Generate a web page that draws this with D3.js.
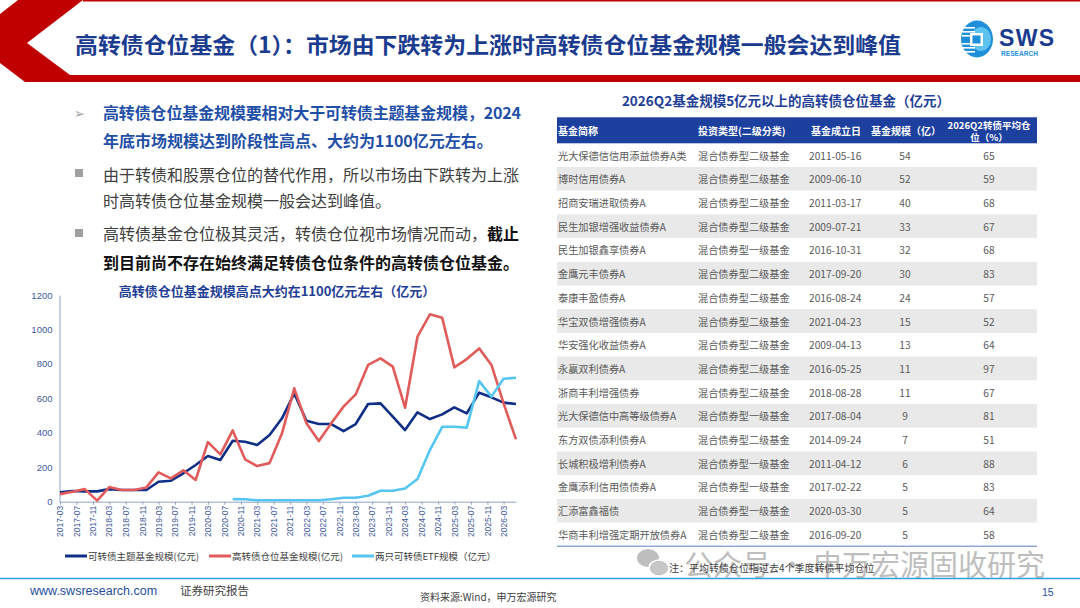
<!DOCTYPE html>
<html><head><meta charset="utf-8">
<script src="https://cdn.jsdelivr.net/npm/d3@7/dist/d3.min.js"></script>
<style>
html,body{margin:0;padding:0;background:#fff;}
svg{display:block;font-family:"Noto Sans CJK SC","Noto Sans",sans-serif;}
</style></head>
<body><svg id="slide" width="1080" height="608"></svg>
<script>
// chart series, quarterly, 亿元
const quarters=['2017-03','2017-06','2017-09','2017-12','2018-03','2018-06','2018-09','2018-12','2019-03','2019-06','2019-09','2019-12','2020-03','2020-06','2020-09','2020-12','2021-03','2021-06','2021-09','2021-12','2022-03','2022-06','2022-09','2022-12','2023-03','2023-06','2023-09','2023-12','2024-03','2024-06','2024-09','2024-12','2025-03','2025-06','2025-09','2025-12','2026-03','2026-06'];
const themeFund=[54,62,60,60,73,68,68,68,116,122,165,213,265,242,354,348,329,387,484,629,470,451,451,410,451,567,571,494,416,519,480,507,548,513,633,606,575,567];
const highPosFund=[44,58,73,6,85,68,68,83,170,135,182,126,346,275,414,246,207,224,397,658,455,352,455,552,623,794,832,784,546,958,1088,1068,780,828,890,794,571,362];
const etfSize=[null,null,null,null,null,null,null,null,null,null,null,null,null,null,15,14,8,8,8,8,8,8,14,23,23,35,64,64,77,132,300,435,435,430,700,610,714,720];
const seriesNames=['可转债主题基金规模(亿元)','高转债仓位基金规模(亿元)','两只可转债ETF规模（亿元）'];
const xTickLabels=['2017-03','2017-07','2017-11','2018-03','2018-07','2018-11','2019-03','2019-07','2019-11','2020-03','2020-07','2020-11','2021-03','2021-07','2021-11','2022-03','2022-07','2022-11','2023-03','2023-07','2023-11','2024-03','2024-07','2024-11','2025-03','2025-07','2025-11','2026-03'];
const yTicks=[0,200,400,600,800,1000,1200];

// table
const tableHead=['基金简称','投资类型(二级分类)','基金成立日','基金规模（亿）'];
const fundNames=['光大保德信信用添益债券A类','博时信用债券A','招商安瑞进取债券A','民生加银增强收益债券A','民生加银鑫享债券A','金鹰元丰债券A','泰康丰盈债券A','华宝双债增强债券A','华安强化收益债券A','永赢双利债券A','浙商丰利增强债券','光大保德信中高等级债券A','东方双债添利债券A','长城积极增利债券A','金鹰添利信用债债券A','汇添富鑫福债','华商丰利增强定期开放债券A'];
const fundTypes=['混合债券型二级基金','混合债券型二级基金','混合债券型二级基金','混合债券型二级基金','混合债券型一级基金','混合债券型二级基金','混合债券型二级基金','混合债券型二级基金','混合债券型二级基金','混合债券型二级基金','混合债券型二级基金','混合债券型一级基金','混合债券型二级基金','混合债券型一级基金','混合债券型一级基金','混合债券型一级基金','混合债券型二级基金'];
const fundDates=['2011-05-16','2009-06-10','2011-03-17','2009-07-21','2016-10-31','2017-09-20','2016-08-24','2021-04-23','2009-04-13','2016-05-25','2018-08-28','2017-08-04','2014-09-24','2011-04-12','2017-02-22','2020-03-30','2016-09-20'];
const fundSizes=[54,52,40,33,32,30,24,15,13,11,11,9,7,6,5,5,5];
const fundPositions=[65,59,68,67,68,83,57,52,64,97,67,81,51,88,83,64,58];

const svg=d3.select('#slide');
const NAVY='#1b3c8e', RED='#c00000';

// ---- header ----
svg.append('rect').attr('x',83).attr('y',0).attr('width',997).attr('height',1.5).attr('fill',RED);
svg.append('path').attr('fill',RED)
  .attr('d','M18,0 L83,0 L27,43 L70,75 L1080,75 L1080,82 L25,82 L0,63 L0,14 Z');
svg.append('text').attr('x',75).attr('y',43).attr('dominant-baseline','central')
  .attr('font-size',22).attr('font-weight',700).attr('fill',NAVY)
  .attr('textLength',826).attr('lengthAdjust','spacingAndGlyphs')
  .text('高转债仓位基金（1）：市场由下跌转为上涨时高转债仓位基金规模一般会达到峰值');

// logo
const logo=svg.append('g');
logo.append('ellipse').attr('cx',977).attr('cy',39).attr('rx',16).attr('ry',18.5).attr('fill','#1e8fd8');
logo.append('ellipse').attr('cx',981).attr('cy',39).attr('rx',10).attr('ry',12).attr('fill','#5cc3f0');
[27,31,35,43,47,51].forEach(y=>logo.append('rect').attr('x',962).attr('y',y).attr('width',13).attr('height',1.6).attr('fill','#fff'));
logo.append('rect').attr('x',970).attr('y',33).attr('width',13).attr('height',13).attr('fill','#fff');
logo.append('rect').attr('x',972.5).attr('y',35.5).attr('width',8).attr('height',8).attr('fill','#1e8fd8');
logo.append('text').attr('x',999).attr('y',46).attr('font-family','"Liberation Sans",Arial,sans-serif')
  .attr('font-size',23).attr('font-weight',700).attr('fill','#1b3c8e').attr('textLength',55).text('SWS');
logo.append('text').attr('x',1001).attr('y',55.5).attr('font-family','"Liberation Sans",Arial,sans-serif')
  .attr('font-size',6.5).attr('font-weight',700).attr('fill','#1e8fd8').attr('textLength',37).text('RESEARCH');

// ---- left bullets ----
const BLUE_TXT='#1f4fa6', GRAY_TXT='#404040';
svg.append('text').attr('x',74).attr('y',112).attr('dominant-baseline','central').attr('font-size',13).attr('fill','#a0a0a0').text('➢');
[173,233].forEach(y=>svg.append('rect').attr('x',75).attr('y',y-4).attr('width',8).attr('height',8).attr('fill','#a0a0a0'));
const bl=(y,txt,opts)=>svg.append('text').attr('x',103).attr('y',y).attr('dominant-baseline','central')
  .attr('font-size',16).attr('font-weight',opts.bold?700:400).attr('fill',opts.color).text(txt);
bl(112,'高转债仓位基金规模要相对大于可转债主题基金规模，2024',{bold:1,color:BLUE_TXT}).attr('textLength',418).attr('lengthAdjust','spacing');
bl(140,'年底市场规模达到阶段性高点、大约为1100亿元左右。',{bold:1,color:BLUE_TXT});
bl(174,'由于转债和股票仓位的替代作用，所以市场由下跌转为上涨',{color:GRAY_TXT});
bl(200,'时高转债仓位基金规模一般会达到峰值。',{color:GRAY_TXT});
const l5=bl(233,'',{color:GRAY_TXT});
l5.append('tspan').text('高转债基金仓位极其灵活，转债仓位视市场情况而动，');
l5.append('tspan').attr('font-weight',700).attr('fill','#111').text('截止');
bl(262,'到目前尚不存在始终满足转债仓位条件的高转债仓位基金。',{bold:1,color:'#111'});

// ---- line chart ----
const parse=d3.timeParse('%Y-%m');
const x=d3.scaleTime().domain([parse('2017-03'),parse('2026-06')]).range([60,516]);
const y=d3.scaleLinear().domain([0,1200]).range([501.7,295]);
const AX='#8ea3c9', TICK_TXT='#3d5a9c';

svg.append('text').attr('x',277).attr('y',290).attr('text-anchor','middle').attr('dominant-baseline','central')
  .attr('font-size',13).attr('font-weight',700).attr('fill','#1f3e95').text('高转债仓位基金规模高点大约在1100亿元左右（亿元）');

const yAxis=svg.append('g').attr('transform','translate(59.5,0)')
  .call(d3.axisLeft(y).tickValues(yTicks).tickSize(0).tickPadding(7).tickFormat(d3.format('d')));
yAxis.select('.domain').attr('stroke',AX);
yAxis.selectAll('text').attr('fill',TICK_TXT).attr('font-size',9.5).attr('font-family','"Liberation Sans",Arial,sans-serif');

const xAxis=svg.append('g').attr('transform','translate(0,501.7)')
  .call(d3.axisBottom(x).tickValues(xTickLabels.map(parse)).tickSize(3).tickSizeOuter(0).tickFormat(d3.timeFormat('%Y-%m')));
xAxis.select('.domain').attr('stroke',AX);
xAxis.selectAll('line').attr('stroke',AX);
xAxis.selectAll('text').attr('fill',TICK_TXT).attr('font-size',8.5).attr('font-family','"Liberation Sans",Arial,sans-serif')
  .attr('text-anchor','end').attr('dy','0.32em').attr('dx','-4').attr('y',0).attr('x',0).attr('transform','rotate(-90)');

const series=[
  {name:seriesNames[0],values:themeFund,color:'#0f2f86'},
  {name:seriesNames[1],values:highPosFund,color:'#e25b5b'},
  {name:seriesNames[2],values:etfSize,color:'#55c6f0'}
];
const line=d3.line().defined(d=>d.v!=null).x(d=>x(d.t)).y(d=>y(d.v));
const plot=svg.append('g');
series.forEach(s=>{
  plot.append('path').datum(quarters.map((q,i)=>({t:parse(q),v:s.values[i]})))
    .attr('fill','none').attr('stroke',s.color).attr('stroke-width',2.6).attr('stroke-linejoin','round').attr('d',line);
});

// legend
const legX=[65,209,352];
series.forEach((s,i)=>{
  const g=svg.append('g').attr('transform',`translate(${legX[i]},556)`);
  g.append('line').attr('x1',0).attr('x2',22).attr('stroke',s.color).attr('stroke-width',3);
  g.append('text').attr('x',23).attr('dominant-baseline','central').attr('font-size',9.5).attr('fill',GRAY_TXT).text(s.name);
});

// ---- table ----
svg.append('text').attr('x',786).attr('y',100).attr('text-anchor','middle').attr('dominant-baseline','central')
  .attr('font-size',13.5).attr('font-weight',700).attr('fill','#1f3e95').text('2026Q2基金规模5亿元以上的高转债仓位基金（亿元）');
const tL=557, tR=1037, hTop=117.3, hBot=143.3, rowH=23.7;
svg.append('rect').attr('x',tL).attr('y',hTop).attr('width',tR-tL).attr('height',hBot-hTop).attr('fill','#1d3f9e');
const headX=[558,698,811,871];
tableHead.forEach((h,i)=>svg.append('text').attr('x',headX[i]).attr('y',(hTop+hBot)/2).attr('dominant-baseline','central')
  .attr('font-size',10).attr('font-weight',700).attr('fill','#fff').text(h));
const hp=svg.append('text').attr('x',989).attr('text-anchor','middle').attr('font-size',9.5).attr('font-weight',700).attr('fill','#fff');
hp.append('tspan').attr('x',989).attr('y',124.5).attr('dominant-baseline','central').text('2026Q2转债平均仓');
hp.append('tspan').attr('x',989).attr('y',137).attr('dominant-baseline','central').text('位（%）');

const rows=svg.append('g');
fundNames.forEach((n,i)=>{
  const top=hBot+i*rowH, cy=top+rowH/2;
  if(i%2===1) rows.append('rect').attr('x',tL).attr('y',top).attr('width',tR-tL).attr('height',rowH).attr('fill','#e9e9e9');
  const cell=(xx,txt,anchor)=>rows.append('text').attr('x',xx).attr('y',cy).attr('dominant-baseline','central')
    .attr('text-anchor',anchor||'start').attr('font-size',10.2).attr('fill','#595959').text(txt);
  cell(558,n); cell(698,fundTypes[i]); cell(809,fundDates[i]);
  cell(905,fundSizes[i],'middle'); cell(989,fundPositions[i],'middle');
});
svg.append('line').attr('x1',tL).attr('x2',tR).attr('y1',hBot+fundNames.length*rowH).attr('y2',hBot+fundNames.length*rowH)
  .attr('stroke','#5b7fc0').attr('stroke-width',1);

// watermark + note
const wm=svg.append('g').attr('opacity',0.55);
wm.append('ellipse').attr('cx',648).attr('cy',558).attr('rx',11).attr('ry',9).attr('fill','#8a8a8a');
wm.append('ellipse').attr('cx',659).attr('cy',568).attr('rx',10).attr('ry',8).attr('fill','#9a9a9a').attr('stroke','#fff').attr('stroke-width',1.5);
wm.append('text').attr('x',684).attr('y',563).attr('dominant-baseline','central').attr('font-size',29).attr('fill','#8a8a8a')
  .attr('textLength',361).attr('lengthAdjust','spacingAndGlyphs').text('公众号 · 申万宏源固收研究');
svg.append('text').attr('x',669).attr('y',567).attr('dominant-baseline','central').attr('font-size',10).attr('fill',GRAY_TXT)
  .text('注：平均转债仓位指过去4个季度转债平均仓位');

// ---- footer ----
svg.append('line').attr('x1',0).attr('x2',1080).attr('y1',578.5).attr('y2',578.5).attr('stroke','#2aa3dc').attr('stroke-width',1.6);
svg.append('text').attr('x',30).attr('y',591).attr('dominant-baseline','central').attr('font-family','"Liberation Sans",Arial,sans-serif')
  .attr('font-size',12.5).attr('fill','#1f4e9c').text('www.swsresearch.com');
svg.append('text').attr('x',180).attr('y',590).attr('dominant-baseline','central').attr('font-size',11.5).attr('fill',GRAY_TXT).text('证券研究报告');
svg.append('text').attr('x',420).attr('y',596).attr('dominant-baseline','central').attr('font-size',10).attr('fill',GRAY_TXT).text('资料来源:Wind，申万宏源研究');
svg.append('text').attr('x',1042).attr('y',592).attr('dominant-baseline','central').attr('font-family','"Liberation Sans",Arial,sans-serif')
  .attr('font-size',10.5).attr('fill','#1f4e9c').text('15');
</script></body></html>
